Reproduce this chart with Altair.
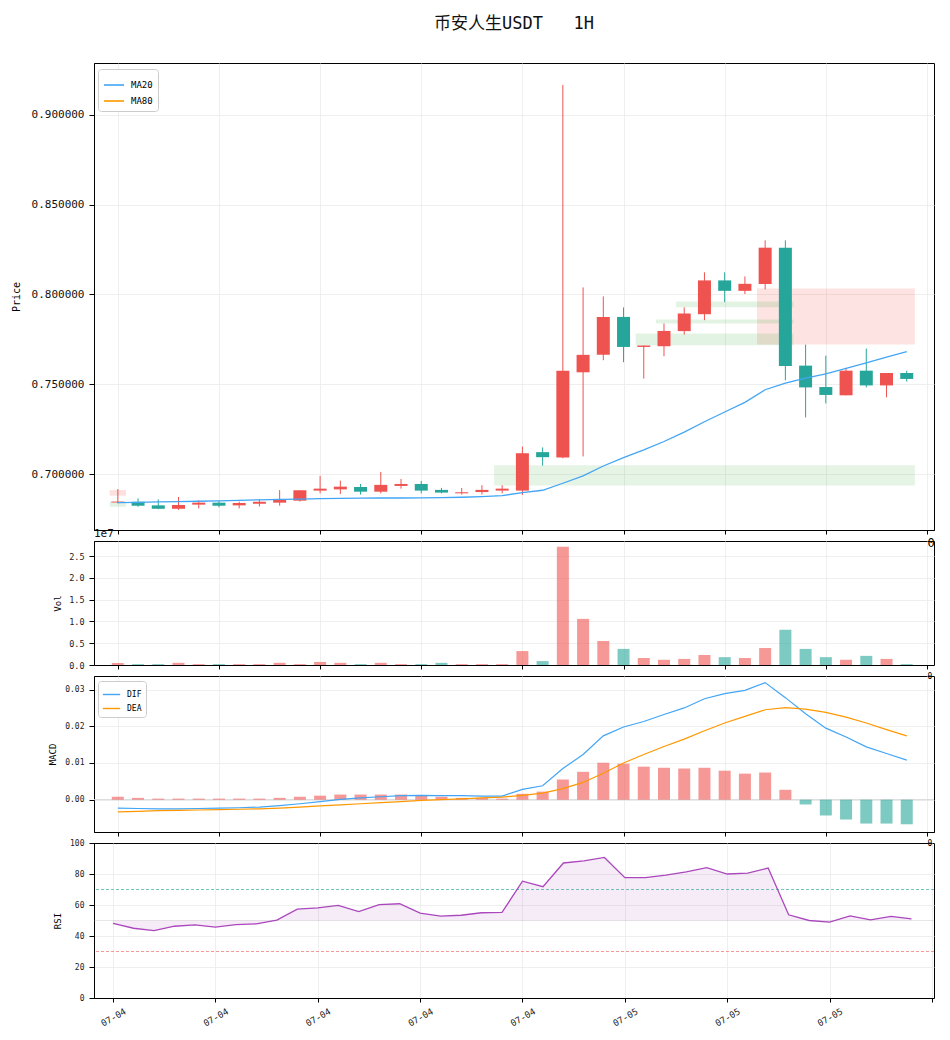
import altair as alt
import pandas as pd

TITLE = "币安人生USDT\u00a0\u00a0\u00a01H"

idx = list(range(40))
opens = [0.6843, 0.6847, 0.6827, 0.6808, 0.6831, 0.6842, 0.6827, 0.6836, 0.6842, 0.6853,
         0.6909, 0.6916, 0.6929, 0.6903, 0.6935, 0.6946, 0.6913, 0.6894, 0.6901, 0.6909,
         0.6909, 0.7123, 0.7093, 0.7567, 0.7664, 0.7875, 0.7708, 0.7712, 0.7796, 0.7890,
         0.8078, 0.8020, 0.8058, 0.8260, 0.7604, 0.7485, 0.7439, 0.7576, 0.7494, 0.7563]
highs = [0.6918, 0.6866, 0.6860, 0.6873, 0.6855, 0.6855, 0.6848, 0.6862, 0.6912, 0.6911,
         0.6991, 0.6965, 0.6946, 0.7013, 0.6974, 0.6963, 0.6924, 0.6924, 0.6939, 0.6939,
         0.7154, 0.7149, 0.9165, 0.8039, 0.7989, 0.7928, 0.7716, 0.7838, 0.7928, 0.8123,
         0.8123, 0.8100, 0.8301, 0.8301, 0.7721, 0.7660, 0.7591, 0.7699, 0.7563, 0.7576]
lows = [0.6838, 0.6819, 0.6806, 0.6802, 0.6810, 0.6816, 0.6810, 0.6821, 0.6825, 0.6848,
        0.6894, 0.6890, 0.6887, 0.6894, 0.6920, 0.6894, 0.6894, 0.6887, 0.6887, 0.6894,
        0.6885, 0.7048, 0.7089, 0.7099, 0.7634, 0.7623, 0.7532, 0.7656, 0.7777, 0.7857,
        0.7957, 0.8002, 0.8028, 0.7522, 0.7316, 0.7394, 0.7439, 0.7483, 0.7428, 0.7515]
closes = [0.6848, 0.6825, 0.6808, 0.6829, 0.6842, 0.6825, 0.6840, 0.6847, 0.6859, 0.6911,
          0.6920, 0.6931, 0.6903, 0.6941, 0.6946, 0.6909, 0.6898, 0.6900, 0.6913, 0.6920,
          0.7117, 0.7095, 0.7576, 0.7664, 0.7875, 0.7708, 0.7716, 0.7797, 0.7894, 0.8078,
          0.8020, 0.8059, 0.8260, 0.7602, 0.7483, 0.7441, 0.7576, 0.7494, 0.7563, 0.7530]
ma20 = [0.6842, 0.6844, 0.6846, 0.6848, 0.6850, 0.6852, 0.6855, 0.6858, 0.6860, 0.6862,
        0.6864, 0.6866, 0.6867, 0.6868, 0.6868, 0.6869, 0.6870, 0.6872, 0.6876, 0.6881,
        0.6898, 0.6911, 0.6950, 0.6991, 0.7046, 0.7093, 0.7136, 0.7182, 0.7234, 0.7292,
        0.7346, 0.7400, 0.7470, 0.7507, 0.7535, 0.7558, 0.7589, 0.7619, 0.7651, 0.7682]
volume = [0.046e7, 0.02e7, 0.02e7, 0.05e7, 0.02e7, 0.02e7, 0.02e7, 0.02e7, 0.05e7, 0.02e7,
          0.07e7, 0.05e7, 0.02e7, 0.05e7, 0.02e7, 0.02e7, 0.05e7, 0.02e7, 0.02e7, 0.02e7,
          0.32e7, 0.09e7, 2.72e7, 1.06e7, 0.55e7, 0.37e7, 0.16e7, 0.12e7, 0.14e7, 0.23e7,
          0.18e7, 0.16e7, 0.39e7, 0.81e7, 0.37e7, 0.18e7, 0.12e7, 0.21e7, 0.14e7, 0.02e7]
dif = [-0.0023, -0.0024, -0.0025, -0.0025, -0.0024, -0.0023, -0.0022, -0.0020, -0.0016, -0.0011,
       -0.0005, 0.0001, 0.0005, 0.0008, 0.0011, 0.0012, 0.0011, 0.0011, 0.0010, 0.0010,
       0.0028, 0.0038, 0.0085, 0.0123, 0.0174, 0.0198, 0.0213, 0.0232, 0.0250, 0.0275,
       0.0289, 0.0298, 0.0319, 0.0278, 0.0234, 0.0195, 0.0171, 0.0144, 0.0126, 0.0108]
dea = [-0.0033, -0.0032, -0.0030, -0.0029, -0.0028, -0.0027, -0.0026, -0.0025, -0.0023, -0.0020,
       -0.0017, -0.0014, -0.0011, -0.0008, -0.0005, -0.0002, 0.0000, 0.0002, 0.0005, 0.0007,
       0.0012, 0.0018, 0.0030, 0.0047, 0.0072, 0.0100, 0.0123, 0.0145, 0.0165, 0.0188,
       0.0209, 0.0227, 0.0245, 0.0251, 0.0247, 0.0238, 0.0225, 0.0209, 0.0191, 0.0174]
hist = [0.0008, 0.0005, 0.0003, 0.0003, 0.0003, 0.0003, 0.0003, 0.0003, 0.0005, 0.0008,
        0.0011, 0.0014, 0.0014, 0.0014, 0.0014, 0.0011, 0.0008, 0.0005, 0.0005, 0.0003,
        0.0016, 0.0022, 0.0055, 0.0076, 0.0101, 0.0098, 0.0090, 0.0087, 0.0085, 0.0087,
        0.0079, 0.0071, 0.0074, 0.0027, -0.0013, -0.0043, -0.0054, -0.0065, -0.0065, -0.0067]
rsi = [48.1, 45.0, 43.5, 46.3, 47.2, 45.7, 47.4, 47.8, 50.2, 57.3,
       58.2, 59.7, 55.8, 60.3, 60.8, 54.7, 52.8, 53.4, 55.0, 55.2,
       75.4, 71.8, 87.1, 88.4, 90.7, 77.6, 77.6, 79.3, 81.3, 84.1,
       80.0, 80.6, 83.8, 53.7, 50.0, 48.9, 53.0, 50.4, 52.6, 51.1]

# zones (index span, price span, kind)
zone_x0 = [18.6, 31.6, 25.6, 26.6, 27.6, -0.4, -0.4]
zone_x1 = [39.4, 39.4, 33.4, 33.4, 33.4, 0.4, 0.4]
zone_lo = [0.6937, 0.7721, 0.7717, 0.7838, 0.7929, 0.6881, 0.6819]
zone_hi = [0.7050, 0.8033, 0.7783, 0.7861, 0.7961, 0.6912, 0.6847]
zone_kind = ["bull", "bear", "bull_weak", "bull_weak", "bull_weak", "bear_weak", "bull_weak"]

tick_vals = [0, 5, 10, 15, 20, 25, 30, 35, 40]
tick_labels = ["07-04", "07-04", "07-04", "07-04", "07-04", "07-05", "07-05", "07-05", ""]

rsi_levels = [70, 30, 50]
rsi_ticks = [0, 20, 40, 60, 80, 100]

# ---------------------------------------------------------------
MONO = "DejaVu Sans Mono, Noto Sans CJK SC"
UP, DOWN = "#ef5350", "#26a69a"
GRID = "#ebebeb"
W = 840
H_PRICE, H_VOL, H_MACD, H_RSI = 467, 124, 156, 155
XDOM = [-0.93, 40.1]

df = pd.DataFrame({"i": idx, "open": opens, "high": highs, "low": lows, "close": closes,
                   "ma20": ma20, "vol": volume, "dif": dif, "dea": dea, "hist": hist, "rsi": rsi})
df["dir"] = ["up" if c >= o else "down" for o, c in zip(opens, closes)]
df["hdir"] = ["up" if h >= 0 else "down" for h in hist]
df["ma_name"] = "MA20"

zones = pd.DataFrame({"x0": zone_x0, "x1": zone_x1, "lo": zone_lo, "hi": zone_hi, "kind": zone_kind})

color_scale = alt.Scale(domain=["up", "down"], range=[UP, DOWN])
xscale = alt.Scale(domain=XDOM, nice=False, zero=False)

label_arr = "[" + ",".join("'" + s + "'" for s in tick_labels) + "]"
bottom_label_expr = label_arr + "[round(datum.value/5)]"


def x_axis(bottom=False, size=8):
    if bottom:
        return alt.Axis(values=tick_vals, labelExpr=bottom_label_expr, title=None, grid=True,
                        gridColor=GRID, labelAngle=330, labelAlign="center", labelBaseline="middle",
                        labelPadding=15, labelFontSize=9, tickSize=4, labelFont=MONO,
                        labelColor="#222222", labelOverlap=False)
    return alt.Axis(values=tick_vals, labelExpr="datum.value == 40 ? '0' : ''", title=None,
                    grid=True, gridColor=GRID, tickSize=4, labelFontSize=size, labelAlign="left",
                    labelPadding=3, labelFont=MONO, labelFlush=False, labelOverlap=False,
                    labelBound=False)


X_top = alt.X("i:Q", scale=xscale, axis=x_axis(False, 12))

# ---------------- price panel ----------------
zone_layer = alt.Chart(zones).mark_rect().encode(
    x=alt.X("x0:Q", scale=xscale, axis=x_axis(False, 12)),
    x2="x1:Q",
    y=alt.Y("lo:Q"),
    y2="hi:Q",
    fill=alt.Fill("kind:N", legend=None,
                  scale=alt.Scale(domain=["bull", "bear", "bull_weak", "bear_weak"],
                                  range=["#4caf50", "#f44336", "#4caf50", "#f44336"])),
    fillOpacity=alt.FillOpacity("kind:N", legend=None,
                                scale=alt.Scale(domain=["bull", "bear", "bull_weak", "bear_weak"],
                                                range=[0.14, 0.17, 0.06, 0.05])),
)

price_y = alt.Y("low:Q", title="Price",
                scale=alt.Scale(domain=[0.669, 0.9287], nice=False, zero=False),
                axis=alt.Axis(values=[0.70, 0.75, 0.80, 0.85, 0.90], format=".6f",
                              labelFontSize=11, labelFont=MONO, tickSize=5, labelPadding=5,
                              grid=True, gridColor=GRID, titleFont=MONO, titleFontSize=10,
                              titleFontWeight="normal", titleX=-73, titleY=H_PRICE / 2,
                              labelColor="#111111"))

wicks = alt.Chart(df).mark_rule(strokeWidth=1).encode(
    x=X_top, y=price_y, y2="high:Q",
    color=alt.Color("dir:N", scale=color_scale, legend=None))
bodies = alt.Chart(df).mark_bar(size=13, strokeWidth=0.7).encode(
    x=X_top, y="open:Q", y2="close:Q",
    color=alt.Color("dir:N", scale=color_scale, legend=None))
ma_line = alt.Chart(df).mark_line(strokeWidth=1.3).encode(
    x=X_top, y="ma20:Q",
    stroke=alt.Stroke("ma_name:N",
                      scale=alt.Scale(domain=["MA20", "MA80"], range=["#42a5f5", "#ff9800"]),
                      legend=alt.Legend(orient="none", legendX=4, legendY=6, title=None,
                                        symbolType="stroke", symbolSize=400, symbolStrokeWidth=1.6,
                                        labelFontSize=9, labelFont=MONO, strokeColor="#cccccc",
                                        fillColor="white", padding=5, cornerRadius=3,
                                        rowPadding=0, labelOffset=6)))

price = alt.layer(zone_layer, wicks, bodies, ma_line).properties(width=W, height=H_PRICE)

# ---------------- volume panel ----------------
vol_bars = alt.Chart(df).mark_bar(size=12, opacity=0.6).encode(
    x=alt.X("i:Q", scale=xscale, axis=x_axis(False, 8)),
    y=alt.Y("vol:Q", title="Vol", scale=alt.Scale(domain=[0, 2.85e7], nice=False),
            axis=alt.Axis(values=[0, 0.5e7, 1e7, 1.5e7, 2e7, 2.5e7],
                          labelExpr="format(datum.value/1e7, '.1f')", labelFontSize=8.5,
                          labelFont=MONO, tickSize=5, labelPadding=5, grid=True, gridColor=GRID,
                          titleFont=MONO, titleFontSize=9, titleFontWeight="normal",
                          titleX=-32, titleY=H_VOL / 2, labelColor="#222222",
                          labelOverlap=False)),
    color=alt.Color("dir:N", scale=color_scale, legend=None))
offset_txt = alt.Chart(pd.DataFrame({"t": ["1e7"]})).mark_text(
    align="left", baseline="bottom", fontSize=11, font=MONO, color="#111111").encode(
    x=alt.value(0), y=alt.value(-2), text="t:N")
vol = alt.layer(vol_bars, offset_txt).properties(width=W, height=H_VOL)

# ---------------- MACD panel ----------------
macd_long = pd.concat([
    pd.DataFrame({"i": idx, "v": dif, "s": "DIF"}),
    pd.DataFrame({"i": idx, "v": dea, "s": "DEA"}),
])
macd_y_scale = alt.Scale(domain=[-0.0088, 0.0337], nice=False, zero=False)
hist_bars = alt.Chart(df).mark_bar(size=12, opacity=0.6).encode(
    x=alt.X("i:Q", scale=xscale, axis=x_axis(False, 8)),
    y=alt.Y("hist:Q", title="MACD", scale=macd_y_scale,
            axis=alt.Axis(values=[0.0, 0.01, 0.02, 0.03], format=".2f", labelFontSize=8,
                          labelFont=MONO, tickSize=5, labelPadding=5, grid=True, gridColor=GRID,
                          titleFont=MONO, titleFontSize=9, titleFontWeight="normal",
                          titleX=-37, titleY=H_MACD / 2, labelColor="#222222",
                          labelOverlap=False)),
    y2=alt.datum(0),
    color=alt.Color("hdir:N", scale=color_scale, legend=None))
zero_rule = alt.Chart(pd.DataFrame({"z": [0.0]})).mark_rule(color="#d6d6d6", strokeWidth=1).encode(
    y=alt.Y("z:Q", scale=macd_y_scale))
macd_lines = alt.Chart(macd_long).mark_line(strokeWidth=1.2).encode(
    x=alt.X("i:Q", scale=xscale),
    y=alt.Y("v:Q", scale=macd_y_scale),
    stroke=alt.Stroke("s:N", scale=alt.Scale(domain=["DIF", "DEA"], range=["#42a5f5", "#ff9800"]),
                      legend=alt.Legend(orient="none", legendX=4, legendY=5, title=None,
                                        symbolType="stroke", symbolSize=300, symbolStrokeWidth=1.4,
                                        labelFontSize=8, labelFont=MONO, strokeColor="#cccccc",
                                        fillColor="white", padding=4, cornerRadius=3,
                                        rowPadding=0, labelOffset=6)),
    order="i:Q")
macd = alt.layer(zero_rule, hist_bars, macd_lines).properties(width=W, height=H_MACD)

# ---------------- RSI panel ----------------
rsi_scale = alt.Scale(domain=[0, 100], nice=False, zero=True)
rsi_axis = alt.Axis(values=rsi_ticks, labelFontSize=8, labelFont=MONO,
                    tickSize=5, labelPadding=5, grid=True, gridColor=GRID,
                    gridOpacity={"condition": {"test": "datum.value == 100", "value": 0}, "value": 1},
                    titleFont=MONO, titleFontSize=9, titleFontWeight="normal",
                    titleX=-32, titleY=H_RSI / 2, labelColor="#222222",
                    labelOverlap=False, labelFlush=False, tickCount=6)
rsi_area = alt.Chart(df).mark_area(color="#ab47bc", opacity=0.1).encode(
    x=alt.X("i:Q", scale=xscale, axis=x_axis(True)),
    y=alt.Y("rsi:Q", title="RSI", scale=rsi_scale, axis=rsi_axis),
    y2=alt.datum(50))
lv = pd.DataFrame({"rsi": rsi_levels})
rule_ob = alt.Chart(lv.iloc[[0]]).mark_rule(color="#26a69a", strokeWidth=1, strokeDash=[3, 2],
                                              opacity=0.65).encode(
    y=alt.Y("rsi:Q", title="RSI", scale=rsi_scale, axis=rsi_axis))
rule_os = alt.Chart(lv.iloc[[1]]).mark_rule(color="#ef5350", strokeWidth=1, strokeDash=[3, 2],
                                              opacity=0.6).encode(
    y=alt.Y("rsi:Q", title="RSI", scale=rsi_scale, axis=rsi_axis))
rule_mid = alt.Chart(lv.iloc[[2]]).mark_rule(color="#9e9e9e", strokeWidth=1,
                                               opacity=0.25).encode(
    y=alt.Y("rsi:Q", title="RSI", scale=rsi_scale, axis=rsi_axis))
rsi_line = alt.Chart(df).mark_line(color="#ab47bc", strokeWidth=1.3).encode(
    x=alt.X("i:Q", scale=xscale, axis=x_axis(True)),
    y=alt.Y("rsi:Q", title="RSI", scale=rsi_scale, axis=rsi_axis))
rsi_panel = alt.layer(rsi_area, rule_mid, rule_ob, rule_os, rsi_line).properties(width=W, height=H_RSI)

chart = alt.vconcat(price, vol, macd, rsi_panel, spacing=11, bounds="flush").resolve_scale(
    y="independent", stroke="independent"
).resolve_legend(stroke="independent").properties(
    title=alt.TitleParams(TITLE, fontSize=17, font=MONO, fontWeight="normal", anchor="middle",
                          frame="group", offset=30, color="#111111"),
    padding={"left": 2, "top": 6, "right": 5, "bottom": 5},
).configure_view(stroke="black", strokeWidth=1).configure_axis(
    domainColor="black", tickColor="black", gridWidth=0.8
)

chart.save("out.html", embed_options={"renderer": "svg", "actions": False})
